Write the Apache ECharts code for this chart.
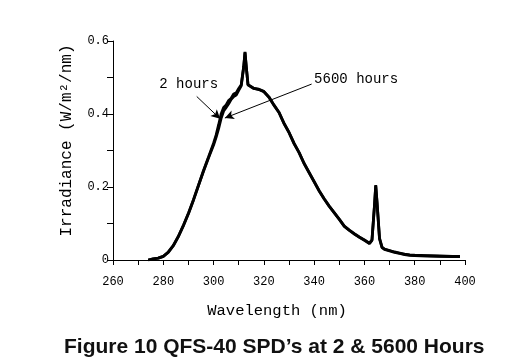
<!DOCTYPE html>
<html>
<head>
<meta charset="utf-8">
<script src="https://cdn.jsdelivr.net/npm/echarts@6/dist/echarts.min.js"></script>
<style>html,body{margin:0;padding:0;background:#fff}#c{width:516px;height:362px}</style>
</head>
<body>
<div id="c"></div>
<script>
// Wavelength (nm)
var wavelengths = [274,276,278,280,282,284,286,288,290,292,294,296,298,300,301,302,303,304,305,306,307,308,309,310,311,312,312.5,313,313.7,315,316,318,320,322,324,326,328,330,332,334,336,338,340,342,344,346,348,350,352,354,356,358,360,362,363,364,364.5,365,366,367,368,370,372,374,376,378,380,385,390,395,398];
// Irradiance (W/m²/nm) after 2 hours
var hours2 = [0.0,0.003,0.005,0.01,0.022,0.04,0.065,0.095,0.128,0.165,0.205,0.245,0.282,0.32,0.342,0.37,0.40,0.418,0.425,0.437,0.443,0.455,0.458,0.47,0.48,0.53,0.57,0.53,0.48,0.475,0.47,0.468,0.462,0.447,0.425,0.405,0.375,0.35,0.32,0.295,0.265,0.24,0.215,0.19,0.168,0.148,0.13,0.112,0.093,0.082,0.072,0.063,0.055,0.046,0.055,0.15,0.205,0.16,0.06,0.035,0.03,0.026,0.022,0.019,0.016,0.014,0.013,0.012,0.011,0.01,0.01];
// Irradiance (W/m²/nm) after 5600 hours
var hours5600 = [0.0,0.003,0.005,0.01,0.021,0.039,0.064,0.094,0.127,0.164,0.204,0.243,0.28,0.315,0.336,0.36,0.388,0.408,0.418,0.428,0.44,0.448,0.452,0.465,0.477,0.53,0.568,0.53,0.48,0.474,0.47,0.467,0.461,0.446,0.424,0.404,0.374,0.349,0.319,0.294,0.264,0.239,0.214,0.189,0.167,0.147,0.129,0.111,0.092,0.081,0.071,0.062,0.054,0.045,0.054,0.148,0.203,0.158,0.058,0.034,0.029,0.025,0.021,0.018,0.015,0.013,0.012,0.011,0.01,0.009,0.009];
var xTicks = [260,280,300,320,340,360,380,400];
var yTicks = [0,0.2,0.4,0.6];
var seriesNames = ['2 hours','5600 hours'];
// annotation anchors in data units: [label point, arrow start, arrow end]
var note2 = {label:[290.1,0.482], from:[293.3,0.448], to:[302.6,0.387]};
var note5600 = {label:[356.7,0.496], from:[339.0,0.482], to:[304.5,0.389]};

var mono = 'Liberation Mono, Courier New, monospace';
var chart = echarts.init(document.getElementById('c'), null, {renderer:'canvas'});
function pairs(xs, ys){ return xs.map(function(x,i){return [x, ys[i]];}); }
function arrow(n){
  return {
    silent:true, symbol:['none','arrow'], symbolSize:[7,9],
    lineStyle:{color:'#000', width:1, type:'solid'}, label:{show:false},
    data:[[{coord:n.from},{coord:n.to}]]
  };
}
function noteLabel(n, text){
  return {silent:true, symbol:'circle', symbolSize:0, data:[{coord:n.label, name:text}],
    label:{show:true, formatter:'{b}', color:'#000', fontFamily:mono, fontSize:14, position:'inside'}};
}
var lineStyle = {color:'#000', width:2.8};
chart.setOption({
  animation:false,
  backgroundColor:'#fff',
  title:{text:'Figure 10 QFS-40 SPD\u2019s at 2 & 5600 Hours', left:59, top:332,
    textStyle:{fontFamily:'Liberation Sans, Arial, sans-serif', fontWeight:'bold', fontSize:21, color:'#111'}},
  grid:{left:113, right:51, top:41, bottom:102},
  xAxis:{type:'value', min:xTicks[0], max:xTicks[xTicks.length-1], interval:20,
    name:'Wavelength (nm)', nameLocation:'middle', nameGap:43,
    nameTextStyle:{fontFamily:mono, fontSize:15.5, color:'#000', padding:[0,24,0,0]},
    axisLine:{show:true, onZero:false, lineStyle:{color:'#000', width:1}},
    axisTick:{show:true, length:5, lineStyle:{color:'#000'}},
    minorTick:{show:true, splitNumber:2, length:5, lineStyle:{color:'#000'}},
    splitLine:{show:false},
    axisLabel:{fontFamily:mono, fontSize:12, color:'#000', margin:16}},
  yAxis:{type:'value', min:yTicks[0], max:yTicks[yTicks.length-1], interval:0.2,
    name:'Irradiance (W/m\u00b2/nm)', nameLocation:'middle', nameGap:38, nameRotate:90,
    nameTextStyle:{fontFamily:mono, fontSize:16, color:'#000', padding:[0,0,0,20]},
    axisLine:{show:true, lineStyle:{color:'#000', width:1}},
    axisTick:{show:true, length:6, lineStyle:{color:'#000'}},
    minorTick:{show:true, splitNumber:2, length:6, lineStyle:{color:'#000'}},
    splitLine:{show:false},
    axisLabel:{fontFamily:mono, fontSize:12, color:'#000', margin:4,
      formatter:function(v){return v===0?'0':v.toFixed(1);}}},
  series:[
    {name:seriesNames[0], type:'line', data:pairs(wavelengths,hours2), showSymbol:false, lineStyle:lineStyle, itemStyle:{color:'#000'}, z:3,
      markLine:arrow(note2), markPoint:noteLabel(note2, seriesNames[0])},
    {name:seriesNames[1], type:'line', data:pairs(wavelengths,hours5600), showSymbol:false, lineStyle:lineStyle, itemStyle:{color:'#000'}, z:3,
      markLine:arrow(note5600), markPoint:noteLabel(note5600, seriesNames[1])}
  ]
});
</script>
</body>
</html>
